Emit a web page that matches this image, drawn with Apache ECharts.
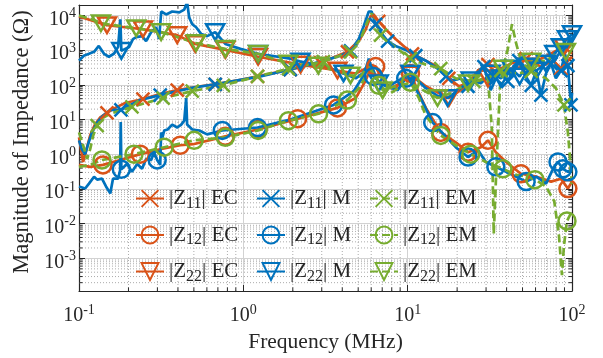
<!DOCTYPE html>
<html>
<head>
<meta charset="utf-8">
<script src="https://cdn.jsdelivr.net/npm/echarts@6/dist/echarts.min.js"></script>
<style>
  html, body { margin: 0; padding: 0; background: #fff; }
  #chart { width: 603px; height: 358px; }
</style>
</head>
<body>
<div id="chart"></div>
<script>
// ---- |Z11| equivalent circuit ----
const freqZ11EC = [0.100, 0.106, 0.110, 0.117, 0.125, 0.134, 0.148, 0.166, 0.191, 0.245, 0.312, 0.396, 0.547, 0.674, 1.00, 1.22, 1.93, 2.95, 4.30, 5.04, 5.56, 5.94, 6.20, 6.67, 7.34, 8.44, 10.7, 12.9, 15.9, 17.8, 20.5, 23.3, 26.8, 30.8, 36.9, 43.9, 52.6, 64.7, 76.8, 85.6, 94.4, 100];
const magZ11EC  = [3.07, 0.60, 1.15, 3.5, 7.2, 11.3, 15.7, 21.7, 30.1, 39.1, 54.2, 70.3, 91.2, 104, 144, 175, 277, 437, 895, 1830, 4010, 9370, 10700, 6770, 4010, 2090, 786, 498, 295, 154, 91.2, 111, 259, 383, 295, 437, 567, 336, 498, 295, 498, 646];
const markZ11EC = [6, 9, 11, 13, 15, 16, 17, 18, 23, 26, 29, 33, 36, 39];

// ---- |Z12| equivalent circuit ----
const freqZ12EC = [0.100, 0.117, 0.140, 0.178, 0.236, 0.312, 0.413, 0.495, 0.777, 1.23, 2.14, 3.74, 4.83, 5.56, 5.94, 6.39, 6.84, 7.55, 8.44, 9.46, 10.4, 11.7, 12.9, 15.9, 19.6, 23.3, 27.9, 30.8, 34.4, 39.7, 48.9, 60.7, 74.6, 85.6, 94.4, 100];
const magZ12EC  = [0.494, 0.434, 0.494, 0.685, 1.01, 1.40, 1.82, 1.95, 3.28, 5.18, 10.6, 21.7, 41.7, 135, 295, 336, 243, 91.2, 80.1, 154, 213, 57.8, 21.7, 4.26, 2.22, 1.15, 1.60, 2.52, 1.15, 0.60, 0.275, 0.226, 0.163, 0.198, 0.103, 0.163];
const markZ12EC = [2, 4, 6, 8, 9, 10, 11, 15, 20, 23, 25, 27, 30, 34];

// ---- |Z22| equivalent circuit ----
const freqZ22EC = [0.100, 0.148, 0.245, 0.396, 0.510, 0.777, 1.23, 2.23, 3.74, 4.83, 5.56, 5.94, 6.39, 6.84, 7.87, 9.06, 10.4, 12.9, 15.9, 17.8, 21.0, 24.2, 30.8, 36.9, 42.6, 52.6, 64.7, 79.8, 89.3, 100];
const magZ22EC  = [9370, 5210, 4010, 2710, 1510, 1020, 646, 383, 259, 213, 295, 383, 336, 175, 80.1, 111, 200, 91.2, 54.2, 41.7, 70.3, 111, 154, 259, 295, 336, 567, 955, 1240, 786];
const markZ22EC = [1, 2, 3, 4, 5, 6, 7, 8, 16, 19, 22, 25, 28];

// ---- |Z11| measured ----
const freqZ11M = [0.100, 0.104, 0.109, 0.113, 0.120, 0.129, 0.140, 0.155, 0.180, 0.236, 0.312, 0.475, 0.674, 1.00, 1.27, 1.93, 2.95, 3.90, 4.49, 5.04, 5.40, 5.80, 6.03, 6.39, 6.84, 7.55, 8.44, 10.0, 11.2, 12.9, 15.2, 17.1, 18.8, 21.0, 23.3, 24.9, 27.1, 29.1, 32.0, 34.4, 37.9, 40.7, 44.3, 47.5, 51.0, 56.5, 60.7, 64.7, 69.5, 74.6, 79.8, 85.6, 90.6, 94.4, 98.6, 100];
const magZ11M  = [2.52, 1.40, 1.01, 1.82, 4.26, 8.17, 12.9, 19.1, 19.1, 36.6, 50.7, 80.1, 104, 144, 175, 277, 467, 690, 955, 2090, 4880, 13000, 13000, 5560, 3300, 1830, 1320, 955, 690, 498, 295, 175, 135, 154, 91.2, 135, 259, 336, 70.3, 154, 295, 126, 295, 498, 213, 97.4, 259, 50.7, 213, 409, 154, 259, 786, 359, 26.4, 60];
const markZ11M = [8, 10, 12, 15, 18, 23, 25, 28, 31, 34, 37, 39, 41, 43, 45, 47, 49, 51, 53, 54];

// ---- |Z12| measured ----
const freqZ12M = [0.100, 0.109, 0.115, 0.1235, 0.129, 0.138, 0.146, 0.155, 0.161, 0.173, 0.178, 0.1795, 0.181, 0.196, 0.210, 0.226, 0.242, 0.256, 0.275, 0.286, 0.299, 0.312, 0.316, 0.322, 0.330, 0.346, 0.369, 0.396, 0.419, 0.437, 0.449, 0.455, 0.489, 0.540, 0.602, 0.745, 1.22, 1.93, 3.54, 4.69, 5.40, 5.80, 6.20, 7.14, 8.69, 9.73, 10.4, 12.0, 14.2, 16.6, 19.6, 23.3, 26.8, 29.9, 34.4, 39.7, 45.8, 52.6, 60.7, 69.5, 77.7, 82.2, 88.1, 94.4, 100];
const magZ12M  = [0.118, 0.103, 0.143, 0.226, 0.186, 0.198, 0.118, 0.0746, 0.198, 0.198, 0.35, 8.5, 0.37, 0.528, 0.313, 0.528, 0.381, 0.731, 0.685, 1.15, 0.685, 0.494, 4.26, 3.07, 4.85, 5.18, 7.17, 5.90, 7.17, 9.30, 41.7, 7.17, 5.18, 4.85, 3.74, 4.85, 5.90, 10.0, 26.4, 65.9, 187, 567, 175, 97.4, 70.3, 154, 154, 41.7, 8.17, 3.74, 1.60, 0.833, 1.32, 0.60, 0.434, 0.313, 0.226, 0.163, 0.226, 0.143, 0.434, 0.60, 0.381, 0.313, 0.381];
const markZ12M = [12, 20, 35, 36, 38, 42, 45, 48, 51, 54, 57, 61, 62, 63];

// ---- |Z22| measured ----
const freqZ22M = [0.100, 0.107, 0.115, 0.1235, 0.132, 0.142, 0.152, 0.163, 0.173, 0.1785, 0.181, 0.191, 0.202, 0.213, 0.223, 0.242, 0.256, 0.275, 0.295, 0.307, 0.3165, 0.339, 0.369, 0.408, 0.437, 0.455, 0.468, 0.489, 0.516, 0.555, 0.603, 0.674, 0.777, 0.960, 1.23, 1.93, 2.23, 3.07, 4.07, 4.83, 5.32, 5.80, 6.12, 6.67, 7.66, 8.81, 10.4, 12.9, 15.2, 17.5, 21.0, 24.2, 27.9, 32.0, 36.9, 42.6, 48.0, 52.6, 60.7, 69.5, 78.0, 85.6, 93.2, 100];
const magZ22M  = [498, 690, 786, 895, 1320, 786, 646, 786, 1240, 7710, 955, 1090, 1240, 2090, 2380, 2540, 1830, 3300, 4570, 2090, 13000, 10700, 13000, 12200, 14800, 24000, 8780, 5560, 4570, 2900, 2540, 3300, 1510, 1090, 786, 567, 467, 359, 213, 154, 213, 409, 295, 111, 91.2, 135, 213, 80.1, 48, 41.7, 80.1, 135, 111, 213, 154, 295, 175, 336, 259, 409, 786, 1240, 2090, 2900];
const markZ22M = [10, 31, 34, 36, 38, 43, 46, 49, 51, 53, 54, 55, 56, 57, 58, 59, 60, 61, 62, 63];

// ---- |Z11| electromagnetic model ----
const freqZ11EM = [0.100, 0.106, 0.112, 0.117, 0.122, 0.129, 0.140, 0.155, 0.210, 0.325, 0.489, 0.755, 1.22, 1.88, 3.07, 4.49, 5.17, 5.70, 6.03, 6.39, 6.84, 8.22, 10.4, 12.9, 15.9, 19.6, 25.3, 32.0, 36.9, 45.8, 56.5, 69.5, 79.8, 89.3, 94.4, 97.2, 100];
const magZ11EM  = [4.26, 1.82, 0.731, 1.40, 3.5, 6.72, 11.3, 14.7, 23.2, 41.7, 65.9, 97.4, 175, 295, 467, 895, 2090, 6770, 11400, 7710, 2710, 1320, 567, 383, 295, 154, 126, 175, 259, 213, 243, 154, 80.1, 26.4, 4.26, 0.833, 0.118];
const markZ11EM = [5, 8, 9, 10, 11, 12, 13, 14, 15, 20, 22, 24, 26, 28, 30, 33];

// ---- |Z12| electromagnetic model ----
const freqZ12EM = [0.100, 0.117, 0.138, 0.216, 0.330, 0.502, 0.777, 1.23, 1.88, 2.87, 4.30, 5.04, 5.56, 5.94, 6.47, 6.67, 7.87, 9.06, 10.4, 11.7, 12.9, 15.9, 19.6, 24.2, 29.9, 38.0, 45.8, 53.9, 59.5, 69.5, 78.0, 83.3, 86.9, 89.3, 93.2, 100];
const magZ12EM  = [0.434, 0.494, 0.685, 1.01, 1.60, 2.52, 3.07, 4.85, 9.30, 14.7, 36.6, 80.1, 175, 259, 175, 97.4, 57.8, 91.2, 119, 41.7, 12.9, 3.5, 1.82, 1.01, 0.60, 0.381, 0.257, 0.226, 0.186, 0.118, 0.0443, 0.0045, 0.00033, 0.0023, 0.012, 0.023];
const markZ12EM = [2, 3, 4, 5, 6, 7, 8, 9, 10, 15, 18, 21, 23, 25, 28, 34];

// ---- |Z22| electromagnetic model ----
const freqZ22EM = [0.100, 0.125, 0.136, 0.223, 0.316, 0.516, 0.777, 1.23, 1.88, 2.86, 4.49, 5.17, 5.70, 6.12, 6.84, 7.04, 8.44, 10.4, 15.2, 18.3, 23.3, 30.8, 32.5, 33.4, 34.9, 36.4, 38.0, 40.7, 43.1, 45.8, 48.9, 56.5, 69.5, 79.8, 91.8, 100];
const magZ22EM  = [10000, 7220, 5930, 4280, 3300, 1610, 1090, 786, 409, 359, 187, 175, 336, 259, 91.2, 70.3, 91.2, 111, 41.7, 57.8, 111, 154, 5.9, 0.0051, 0.833, 80.1, 295, 1090, 5560, 1510, 498, 467, 498, 786, 895, 1510];
const markZ22EM = [2, 3, 4, 5, 6, 7, 8, 9, 10, 15, 18, 20, 26, 31, 34];

// Axis limits
const X_MIN = 0.1, X_MAX = 100;
const Y_MIN = 1.15e-4, Y_MAX = 2e4;

const FONT = '"Liberation Serif", "Times New Roman", Times, serif';
const INK = '#262626';
const COLORS = { EC: '#D95319', M: '#0072BD', EM: '#77AC30' };
const SYMBOLS = {
  Z11: 'path://M0,0L10,10M10,0L0,10',
  Z12: 'circle',
  Z22: 'path://M0,0L20,0L10,17.3Z'
};
const SIZES = { Z11: 13, Z12: 17, Z22: 18 };

// Plot order: equivalent circuit, measurement, EM model
const SPECS = [
  ['Z11', 'EC', freqZ11EC, magZ11EC, markZ11EC],
  ['Z12', 'EC', freqZ12EC, magZ12EC, markZ12EC],
  ['Z22', 'EC', freqZ22EC, magZ22EC, markZ22EC],
  ['Z11', 'M', freqZ11M, magZ11M, markZ11M],
  ['Z12', 'M', freqZ12M, magZ12M, markZ12M],
  ['Z22', 'M', freqZ22M, magZ22M, markZ22M],
  ['Z11', 'EM', freqZ11EM, magZ11EM, markZ11EM],
  ['Z12', 'EM', freqZ12EM, magZ12EM, markZ12EM],
  ['Z22', 'EM', freqZ22EM, magZ22EM, markZ22EM]
];

function lineSeries(z, src, freq, mag, marks) {
  const markSet = new Set(marks);
  return {
    type: 'line',
    name: z + ' ' + src,
    data: freq.map((f, i) => [f, mag[i]]),
    showSymbol: true,
    symbol: SYMBOLS[z],
    symbolKeepAspect: true,
    symbolSize: (v, p) => (markSet.has(p.dataIndex) ? SIZES[z] : 0),
    lineStyle: { color: COLORS[src], width: 2.7, type: src === 'EM' ? [8, 4] : 'solid' },
    itemStyle: { color: 'rgba(0,0,0,0)', borderColor: COLORS[src], borderWidth: 2.5 },
    emphasis: { disabled: true },
    silent: true,
    animation: false,
    clip: true,
    z: 3
  };
}

// Minor (2..9 per decade) positions for the dotted grid and small ticks
const xMinor = [];
for (const d of [0.1, 1, 10]) for (let k = 2; k <= 9; k++) xMinor.push(k * d);
const yMinor = [];
for (let e = -4; e <= 4; e++) for (let k = 2; k <= 9; k++) {
  const v = k * Math.pow(10, e);
  if (v > Y_MIN && v < Y_MAX) yMinor.push(v);
}

const MINOR_GRID = { stroke: '#ababab', lineWidth: 1, lineDash: [1, 2] };
const TICK = { stroke: INK, lineWidth: 1 };

const minorX = {
  type: 'custom', silent: true, animation: false, z: 1,
  data: xMinor.map(f => [f, Y_MIN]),
  renderItem: (params, api) => {
    const cs = params.coordSys;
    const x = api.coord([api.value(0), api.value(1)])[0];
    const b = cs.y + cs.height;
    return { type: 'group', children: [
      { type: 'line', shape: { x1: x, y1: cs.y, x2: x, y2: b }, style: MINOR_GRID },
      { type: 'line', shape: { x1: x, y1: b, x2: x, y2: b - 3.5 }, style: TICK },
      { type: 'line', shape: { x1: x, y1: cs.y, x2: x, y2: cs.y + 3.5 }, style: TICK }
    ]};
  }
};
const minorY = {
  type: 'custom', silent: true, animation: false, z: 1,
  data: yMinor.map(m => [X_MIN, m]),
  renderItem: (params, api) => {
    const cs = params.coordSys;
    const y = api.coord([api.value(0), api.value(1)])[1];
    const r = cs.x + cs.width;
    return { type: 'group', children: [
      { type: 'line', shape: { x1: cs.x, y1: y, x2: r, y2: y }, style: MINOR_GRID },
      { type: 'line', shape: { x1: cs.x, y1: y, x2: cs.x + 3.5, y2: y }, style: TICK },
      { type: 'line', shape: { x1: r, y1: y, x2: r - 3.5, y2: y }, style: TICK }
    ]};
  }
};

function powerLabel(v) {
  const lg = Math.log10(v);
  const e = Math.round(lg);
  if (Math.abs(lg - e) > 1e-6) return '';
  return '{b|10}{e|' + e + '}';
}
const powerRich = {
  b: { fontFamily: FONT, fontSize: 20, lineHeight: 26, color: INK },
  e: { fontFamily: FONT, fontSize: 14, lineHeight: 10, verticalAlign: 'top', color: INK }
};

function logAxis(min, max, extra) {
  return Object.assign({
    type: 'log', logBase: 10, min, max, splitNumber: 8,
    axisLine: { show: true, onZero: false, lineStyle: { color: INK, width: 1.2 } },
    axisTick: { show: true, inside: true, length: 6, lineStyle: { color: INK, width: 1 } },
    splitLine: { show: false },
    axisLabel: { show: false },
    silent: true
  }, extra);
}

function legendColumn(names, left) {
  return {
    data: names,
    orient: 'vertical',
    left, top: 188,
    padding: 0,
    itemGap: 13,
    itemWidth: 28,
    itemHeight: 21,
    selectedMode: false,
    formatter: n => {
      const [z, src] = n.split(' ');
      return '{t||Z}{s|' + z.slice(1) + '}{t|| ' + src + '}';
    },
    textStyle: {
      rich: {
        t: { fontFamily: FONT, fontSize: 21, lineHeight: 26, color: INK },
        s: { fontFamily: FONT, fontSize: 16, lineHeight: 10, verticalAlign: 'bottom', color: INK }
      }
    }
  };
}

const chart = echarts.init(document.getElementById('chart'), null, { renderer: 'canvas' });
chart.setOption({
  backgroundColor: '#ffffff',
  animation: false,
  grid: { left: 79, right: 31, top: 5, bottom: 62, containLabel: false },
  xAxis: [
    logAxis(X_MIN, X_MAX, {
      position: 'bottom',
      name: 'Frequency (MHz)', nameLocation: 'middle', nameGap: 40,
      nameTextStyle: { fontFamily: FONT, fontSize: 21.5, color: INK },
      splitLine: { show: true, lineStyle: { color: '#d2d2d2', width: 1 } },
      axisLabel: { show: true, margin: 12, formatter: powerLabel, rich: powerRich }
    }),
    logAxis(X_MIN, X_MAX, { position: 'top' })
  ],
  yAxis: [
    logAxis(Y_MIN, Y_MAX, {
      position: 'left',
      name: 'Magnitude of Impedance (Ω)', nameLocation: 'middle', nameGap: 39,
      nameTextStyle: { fontFamily: FONT, fontSize: 22.5, color: INK, padding: [0, 0, 0, 12] },
      splitLine: { show: true, lineStyle: { color: '#d2d2d2', width: 1 } },
      axisLabel: { show: true, margin: 3, padding: [8, 0, 0, 0], formatter: powerLabel, rich: powerRich }
    }),
    logAxis(Y_MIN, Y_MAX, { position: 'right' })
  ],
  legend: [
    legendColumn(['Z11 EC', 'Z12 EC', 'Z22 EC'], 135),
    legendColumn(['Z11 M', 'Z12 M', 'Z22 M'], 256),
    legendColumn(['Z11 EM', 'Z12 EM', 'Z22 EM'], 369)
  ],
  series: [minorX, minorY].concat(SPECS.map(s => lineSeries(s[0], s[1], s[2], s[3], s[4])))
});
</script>
</body>
</html>
